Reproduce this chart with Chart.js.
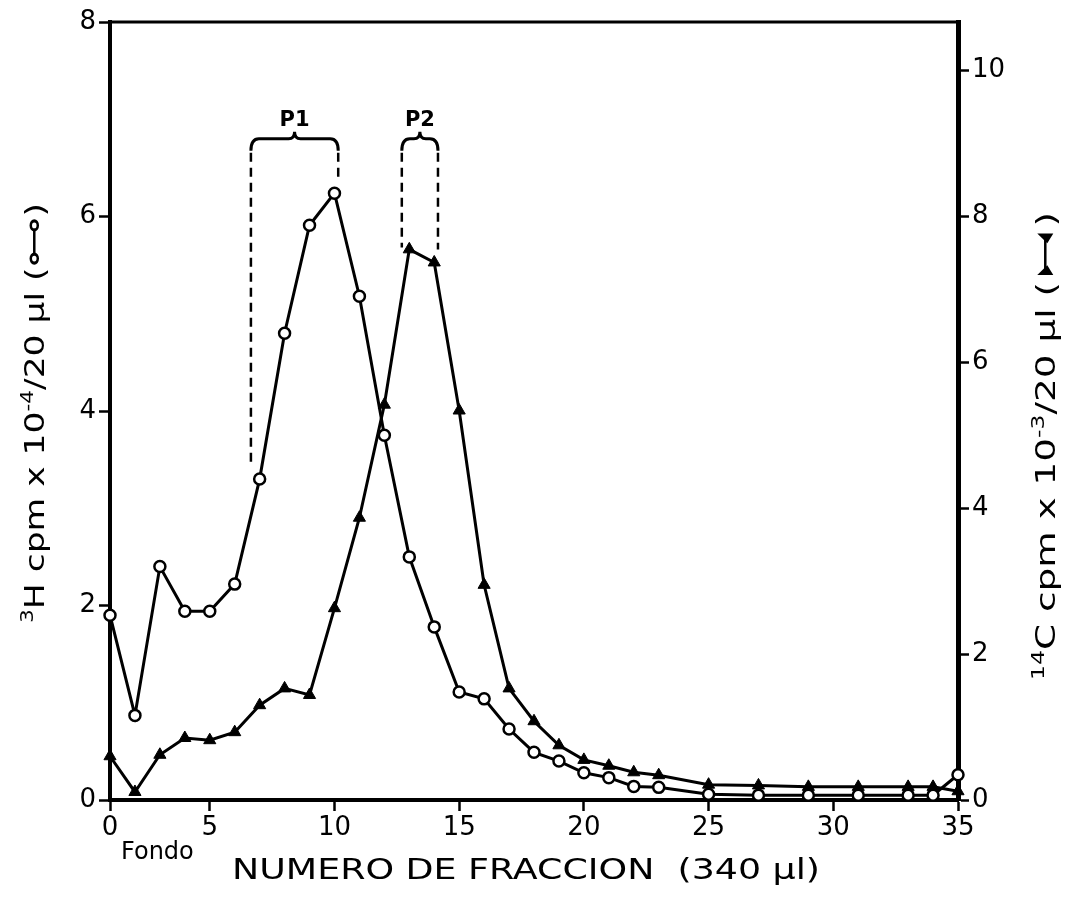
<!DOCTYPE html>
<html>
<head>
<meta charset="utf-8">
<script src="https://cdn.jsdelivr.net/npm/chart.js@4/dist/chart.umd.min.js"></script>
<style>
    html, body { margin: 0; padding: 0; background: #fff; }
</style>
</head>
<body>
<canvas id="fractionChart" width="1067" height="898"></canvas>
<script>
// fraction number (the first one is the "Fondo" fraction, sitting on the origin)
const fractions = [1, 2, 3, 4, 5, 6, 7, 8, 9, 10, 11, 12, 13, 14, 15, 16, 17, 18, 19, 20, 21, 22, 23, 25, 27, 29, 31, 33, 34, 35];
// 3H cpm x 10^-4 / 20 µl  (open circles, left axis)
const tritium = [1.90, 0.87, 2.40, 1.94, 1.94, 2.22, 3.30, 4.80, 5.91, 6.24, 5.18, 3.75, 2.50, 1.78, 1.11, 1.04, 0.73, 0.49, 0.40, 0.28, 0.23, 0.14, 0.13, 0.06, 0.05, 0.05, 0.05, 0.05, 0.05, 0.26];
// 14C cpm x 10^-3 / 20 µl  (filled triangles, right axis)
const carbon = [0.60, 0.11, 0.62, 0.85, 0.82, 0.93, 1.30, 1.53, 1.44, 2.63, 3.87, 5.42, 7.55, 7.37, 5.34, 2.95, 1.53, 1.08, 0.75, 0.55, 0.47, 0.38, 0.34, 0.21, 0.20, 0.18, 0.18, 0.18, 0.18, 0.12];

const xTicks = [1, 5, 10, 15, 20, 25, 30, 35];
const xTickLabels = ["0", "5", "10", "15", "20", "25", "30", "35"];
const leftTicks = [0, 2, 4, 6, 8];
const rightTicks = [0, 2, 4, 6, 8, 10];

// peak brackets (fraction units, left-axis units)
const peakNames = ["P1", "P2"];
const peakFrom = [6.65, 12.7];
const peakTo = [10.15, 14.15];
const peakLevel = 6.8;
const peakDashEndFrom = [3.42, 5.68];
const peakDashEndTo = [6.36, 5.66];

const FONT = '"DejaVu Sans", "Liberation Sans", sans-serif';

/**
 * Draws a line of text rotated -90deg with superscripts and a small legend symbol,
 * stretched along the text so it covers `length` pixels
 */
function drawRotatedLabel(ctx, parts, cx, cy, size, length) {
    const symW = 40;
    ctx.save();
    ctx.translate(cx, cy);
    ctx.rotate(-Math.PI / 2);
    let total = 0;
    parts.forEach(p => {
        if (p.sym) { total += symW; return; }
        ctx.font = `${p.sup ? Math.round(size * 0.62) : size}px ${FONT}`;
        total += ctx.measureText(p.t).width;
    });
    ctx.scale(length / total, 1);
    let x = -total / 2;
    ctx.fillStyle = "#000";
    ctx.strokeStyle = "#000";
    ctx.textBaseline = "alphabetic";
    parts.forEach(p => {
        if (p.sym) {
            const y = -size * 0.36;
            ctx.lineWidth = 2.5;
            ctx.beginPath();
            ctx.moveTo(x + 7, y);
            ctx.lineTo(x + symW - 7, y);
            ctx.stroke();
            if (p.sym === "circle") {
                [x + 7, x + symW - 7].forEach(px => {
                    ctx.beginPath();
                    ctx.arc(px, y, 3.5, 0, Math.PI * 2);
                    ctx.fillStyle = "#fff";
                    ctx.fill();
                    ctx.stroke();
                });
                ctx.fillStyle = "#000";
            } else {
                [[x + 5, 1], [x + symW - 5, -1]].forEach(([px, d]) => {
                    ctx.beginPath();
                    ctx.moveTo(px, y - 8);
                    ctx.lineTo(px, y + 8);
                    ctx.lineTo(px + d * 7, y + 2);
                    ctx.closePath();
                    ctx.fill();
                });
            }
            x += symW;
            return;
        }
        ctx.font = `${p.sup ? Math.round(size * 0.62) : size}px ${FONT}`;
        ctx.fillText(p.t, x, p.sup ? -size * 0.42 : 0);
        x += ctx.measureText(p.t).width;
    });
    ctx.restore();
}

const decorations = {
    id: "decorations",
    afterDraw(chart) {
        const { ctx, chartArea, scales } = chart;
        const xs = scales.x, ys = scales.y;

        // top frame line
        ctx.save();
        ctx.strokeStyle = "#000";
        ctx.lineWidth = 3;
        ctx.beginPath();
        ctx.moveTo(chartArea.left, chartArea.top);
        ctx.lineTo(chartArea.right, chartArea.top);
        ctx.stroke();

        // peak brackets
        peakNames.forEach((name, i) => {
            const x1 = xs.getPixelForValue(peakFrom[i]);
            const x2 = xs.getPixelForValue(peakTo[i]);
            const mid = (x1 + x2) / 2;
            const yTop = ys.getPixelForValue(peakLevel);
            ctx.lineWidth = 3;
            ctx.setLineDash([]);
            ctx.beginPath();
            ctx.moveTo(x1, yTop + 12);
            ctx.quadraticCurveTo(x1, yTop, x1 + 8, yTop);
            ctx.lineTo(mid - 6, yTop);
            ctx.quadraticCurveTo(mid, yTop, mid, yTop - 7);
            ctx.quadraticCurveTo(mid, yTop, mid + 6, yTop);
            ctx.lineTo(x2 - 8, yTop);
            ctx.quadraticCurveTo(x2, yTop, x2, yTop + 12);
            ctx.stroke();

            ctx.setLineDash([9, 6]);
            ctx.lineWidth = 2.5;
            ctx.beginPath();
            ctx.moveTo(x1, yTop + 14);
            ctx.lineTo(x1, ys.getPixelForValue(peakDashEndFrom[i]));
            ctx.moveTo(x2, yTop + 14);
            ctx.lineTo(x2, ys.getPixelForValue(peakDashEndTo[i]));
            ctx.stroke();
            ctx.setLineDash([]);

            ctx.fillStyle = "#000";
            ctx.font = `bold 21px ${FONT}`;
            ctx.textAlign = "center";
            ctx.textBaseline = "alphabetic";
            ctx.fillText(name, mid, yTop - 13);
        });

        // "Fondo" under the origin
        ctx.font = `24px ${FONT}`;
        ctx.textAlign = "left";
        ctx.fillText("Fondo", xs.getPixelForValue(1) + 11, 859);

        // x axis title, stretched to the width of the original lettering
        const title = "NUMERO DE FRACCION  (340 µl)";
        ctx.font = `29px ${FONT}`;
        ctx.textAlign = "center";
        const tw = ctx.measureText(title).width;
        ctx.translate(526, 879);
        ctx.scale(588 / tw, 1);
        ctx.fillText(title, 0, 0);
        ctx.restore();

        // y axis titles
        drawRotatedLabel(ctx, [
            { t: "3", sup: true }, { t: "H cpm x 10" }, { t: "-4", sup: true },
            { t: "/20 µl (" }, { sym: "circle" }, { t: ")" }
        ], 44, 413, 27, 420);
        drawRotatedLabel(ctx, [
            { t: "14", sup: true }, { t: "C cpm x 10" }, { t: "-3", sup: true },
            { t: "/20 µl (" }, { sym: "triangle" }, { t: ")" }
        ], 1055, 446, 27, 468);
    }
};

const tickFont = { family: FONT, size: 26 };

const ctx = document.getElementById("fractionChart").getContext("2d");
new Chart(ctx, {
    type: "line",
    data: {
        datasets: [
            {
                label: "3H",
                data: fractions.map((f, i) => ({ x: f, y: tritium[i] })),
                yAxisID: "y",
                borderColor: "#000",
                borderWidth: 3,
                pointStyle: "circle",
                pointRadius: 5.5,
                pointBorderWidth: 2.5,
                pointBackgroundColor: "#fff",
                pointBorderColor: "#000",
                tension: 0,
                clip: false,
            },
            {
                label: "14C",
                data: fractions.map((f, i) => ({ x: f, y: carbon[i] })),
                yAxisID: "y1",
                borderColor: "#000",
                borderWidth: 3,
                pointStyle: "triangle",
                pointRadius: 7,
                pointBorderWidth: 1,
                pointBackgroundColor: "#000",
                pointBorderColor: "#000",
                tension: 0,
                clip: false,
            },
        ],
    },
    options: {
        responsive: false,
        animation: false,
        layout: { padding: { top: 22, left: 0, right: 0, bottom: 0 } },
        plugins: { legend: { display: false }, tooltip: { enabled: false } },
        scales: {
            x: {
                type: "linear",
                min: 1,
                max: 35,
                afterBuildTicks: s => { s.ticks = xTicks.map(v => ({ value: v })); },
                afterFit: s => { s.height = 98; },
                ticks: {
                    color: "#000",
                    font: tickFont,
                    padding: 2,
                    maxRotation: 0,
                    callback: v => xTickLabels[xTicks.indexOf(v)],
                },
                grid: { drawOnChartArea: false, tickLength: 11, tickWidth: 2.5, tickColor: "#000" },
                border: { color: "#000", width: 4 },
            },
            y: {
                position: "left",
                min: 0,
                max: 8,
                afterBuildTicks: s => { s.ticks = leftTicks.map(v => ({ value: v })); },
                afterFit: s => { s.width = 110; },
                ticks: { color: "#000", font: tickFont, padding: 3 },
                grid: { drawOnChartArea: false, tickLength: 11, tickWidth: 2.5, tickColor: "#000" },
                border: { color: "#000", width: 4 },
            },
            y1: {
                position: "right",
                min: 0,
                max: 32 / 3,
                afterBuildTicks: s => { s.ticks = rightTicks.map(v => ({ value: v })); },
                afterFit: s => { s.width = 109; },
                ticks: { color: "#000", font: tickFont, padding: 3 },
                grid: { drawOnChartArea: false, tickLength: 11, tickWidth: 2.5, tickColor: "#000" },
                border: { color: "#000", width: 5 },
            },
        },
    },
    plugins: [decorations],
});
</script>
</body>
</html>
